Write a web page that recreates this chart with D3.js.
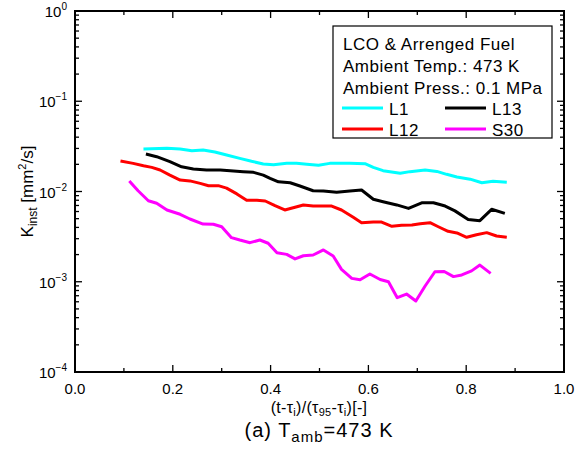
<!DOCTYPE html>
<html><head><meta charset="utf-8">
<script src="https://cdn.jsdelivr.net/npm/d3@7/dist/d3.min.js"></script>
<style>
body{margin:0;background:#fff}
svg{display:block}
text{font-family:"Liberation Sans",Arial,sans-serif;fill:#000}
</style>
</head><body>
<svg id="chart" width="583" height="458"></svg>
<script>
// ---- data ----
const L1_x  = [0.140,0.188,0.215,0.239,0.262,0.286,0.310,0.337,0.361,0.385,0.406,0.433,0.453,0.474,0.498,0.521,0.562,0.593,0.610,0.630,0.665,0.685,0.716,0.740,0.760,0.781,0.808,0.832,0.855,0.883];
const L1_y  = [0.0296,0.0301,0.0296,0.0283,0.0288,0.0274,0.0254,0.0233,0.0216,0.0202,0.0198,0.0205,0.0205,0.0200,0.0195,0.0205,0.0205,0.0203,0.0185,0.0170,0.0159,0.0166,0.0173,0.0167,0.0155,0.0145,0.0137,0.0125,0.0130,0.0127];
const L13_x = [0.145,0.167,0.194,0.218,0.242,0.269,0.297,0.324,0.344,0.365,0.385,0.399,0.416,0.440,0.460,0.487,0.508,0.535,0.562,0.586,0.610,0.630,0.658,0.682,0.709,0.733,0.757,0.777,0.804,0.828,0.852,0.879];
const L13_y = [0.0260,0.0243,0.0214,0.0188,0.0178,0.0173,0.0173,0.0169,0.0166,0.0163,0.0152,0.0140,0.0128,0.0125,0.0115,0.0102,0.0101,0.0098,0.0101,0.0104,0.0082,0.0077,0.0071,0.0065,0.0075,0.0075,0.0069,0.0061,0.0049,0.00475,0.00635,0.00573];
const L12_x = [0.093,0.119,0.140,0.157,0.174,0.194,0.215,0.235,0.256,0.273,0.293,0.310,0.331,0.351,0.372,0.389,0.409,0.429,0.450,0.467,0.487,0.508,0.525,0.545,0.569,0.586,0.610,0.627,0.648,0.668,0.689,0.706,0.726,0.743,0.763,0.781,0.801,0.821,0.842,0.862,0.883];
const L12_y = [0.0218,0.0205,0.0193,0.0185,0.0173,0.0152,0.0134,0.0131,0.0123,0.0116,0.0116,0.0109,0.0094,0.0080,0.0080,0.00785,0.00696,0.00624,0.00668,0.00709,0.0069,0.0069,0.0069,0.00624,0.00518,0.00451,0.00459,0.00459,0.00411,0.00422,0.00425,0.0044,0.00451,0.00407,0.00362,0.00347,0.00311,0.00332,0.0035,0.00321,0.00311];
const S30_x = [0.111,0.129,0.150,0.167,0.188,0.215,0.235,0.262,0.283,0.300,0.320,0.337,0.358,0.378,0.395,0.413,0.433,0.450,0.467,0.487,0.508,0.528,0.545,0.566,0.583,0.603,0.624,0.641,0.659,0.678,0.697,0.716,0.736,0.755,0.774,0.791,0.811,0.828,0.850];
const S30_y = [0.0131,0.0102,0.0079,0.0074,0.00624,0.00559,0.00496,0.00436,0.00433,0.00407,0.00308,0.0029,0.00271,0.0029,0.00267,0.0021,0.00201,0.00179,0.00194,0.00198,0.00225,0.00193,0.00137,0.00109,0.00105,0.00122,0.00106,0.00100,0.000666,0.000731,0.000612,0.000897,0.00129,0.0013,0.00114,0.00119,0.00132,0.00153,0.00124];

const xTickValues = [0,0.2,0.4,0.6,0.8,1.0];
const xTickLabels = ["0.0","0.2","0.4","0.6","0.8","1.0"];
const xMinorValues = [0.1,0.3,0.5,0.7,0.9];
const yTickValues = [1e-4,1e-3,1e-2,1e-1,1];
const yTickExponents = ["\u22124","\u22123","\u22122","\u22121","0"];

const legendTitle = ["LCO & Arrenged Fuel","Ambient Temp.: 473 K","Ambient Press.: 0.1 MPa"];
const seriesNames = ["L1","L13","L12","S30"];

// ---- layout ----
const colors = {L1:"#00ffff", L13:"#000000", L12:"#ff0000", S30:"#ff00ff"};
const L = 75, R = 564, T = 11, B = 372;
const svg = d3.select("#chart");
const x = d3.scaleLinear().domain([0,1]).range([L,R]);
const y = d3.scaleLog().domain([1e-4,1]).range([B,T]);

const yMinor = [];
for (let e=-4;e<0;e++) for (let m=2;m<=9;m++) yMinor.push(m*Math.pow(10,e));

const g = svg.append("g");
const tickStroke = 1.3;
function tick(x1,y1,x2,y2){
  g.append("line").attr("x1",x1).attr("x2",x2).attr("y1",y1).attr("y2",y2).attr("stroke","#000").attr("stroke-width",tickStroke);
}
xTickValues.forEach(v=>{ tick(x(v),B,x(v),B-7); tick(x(v),T,x(v),T+7); });
xMinorValues.forEach(v=>{ tick(x(v),B,x(v),B-4); tick(x(v),T,x(v),T+4); });
yTickValues.forEach(v=>{ tick(L,y(v),L+7,y(v)); tick(R,y(v),R-7,y(v)); });
yMinor.forEach(v=>{ tick(L,y(v),L+4,y(v)); tick(R,y(v),R-4,y(v)); });
g.append("rect").attr("x",L).attr("y",T).attr("width",R-L).attr("height",B-T).attr("fill","none").attr("stroke","#000").attr("stroke-width",2);

xTickValues.forEach((v,i)=>{
  svg.append("text").attr("x",x(v)).attr("y",394).attr("text-anchor","middle").attr("font-size",15).text(xTickLabels[i]);
});
yTickValues.forEach((v,i)=>{
  const t = svg.append("text").attr("x",67).attr("y",y(v)+6).attr("text-anchor","end").attr("font-size",15);
  t.append("tspan").text("10");
  t.append("tspan").attr("dy",-7).attr("font-size",10).text(yTickExponents[i]);
});

const series = [
  {name:"L12", xs:L12_x, ys:L12_y},
  {name:"S30", xs:S30_x, ys:S30_y},
  {name:"L13", xs:L13_x, ys:L13_y},
  {name:"L1",  xs:L1_x,  ys:L1_y}
];
const line = d3.line().x(d=>x(d[0])).y(d=>y(d[1]));
series.forEach(s=>{
  const pts = s.xs.map((v,i)=>[v,s.ys[i]]);
  svg.append("path").attr("d",line(pts)).attr("fill","none").attr("stroke",colors[s.name]).attr("stroke-width",3).attr("stroke-linejoin","round");
});

// legend
const lg = svg.append("g");
lg.append("rect").attr("x",333).attr("y",26).attr("width",219).attr("height",112).attr("fill","#fff").attr("stroke","#000").attr("stroke-width",1.2);
legendTitle.forEach((t,i)=>{
  lg.append("text").attr("x",343).attr("y",50+i*22).attr("font-size",17).attr("letter-spacing",0.5).text(t);
});
const legPos = [[342,108],[445,108],[342,129],[445,129]];
seriesNames.forEach((n,i)=>{
  const [lx,ly] = legPos[i];
  lg.append("line").attr("x1",lx).attr("x2",lx+41).attr("y1",ly).attr("y2",ly).attr("stroke",colors[n]).attr("stroke-width",3);
  lg.append("text").attr("x",lx+47).attr("y",ly+7).attr("font-size",17).attr("letter-spacing",0.5).text(n);
});

// axis titles
const xt = svg.append("text").attr("x",319).attr("y",413).attr("text-anchor","middle").attr("font-size",16).attr("letter-spacing",0.3);
xt.append("tspan").text("(t-\u03c4");
xt.append("tspan").attr("dy",3).attr("font-size",11).text("i");
xt.append("tspan").attr("dy",-3).text(")/(\u03c4");
xt.append("tspan").attr("dy",3).attr("font-size",11).text("95");
xt.append("tspan").attr("dy",-3).text("-\u03c4");
xt.append("tspan").attr("dy",3).attr("font-size",11).text("i");
xt.append("tspan").attr("dy",-3).text(")[-]");

const cap = svg.append("text").attr("x",319).attr("y",437).attr("text-anchor","middle").attr("font-size",20).attr("letter-spacing",1);
cap.append("tspan").text("(a) T");
cap.append("tspan").attr("dy",5).attr("font-size",15).text("amb");
cap.append("tspan").attr("dy",-5).text("=473 K");

const yl = svg.append("text").attr("transform","translate(33,191.5) rotate(-90)").attr("text-anchor","middle").attr("font-size",17);
yl.append("tspan").text("K");
yl.append("tspan").attr("dy",4).attr("font-size",12).text("inst");
yl.append("tspan").attr("dy",-4).text(" [mm");
yl.append("tspan").attr("dy",-7).attr("font-size",11).text("2");
yl.append("tspan").attr("dy",7).text("/s]");
</script>
</body></html>
